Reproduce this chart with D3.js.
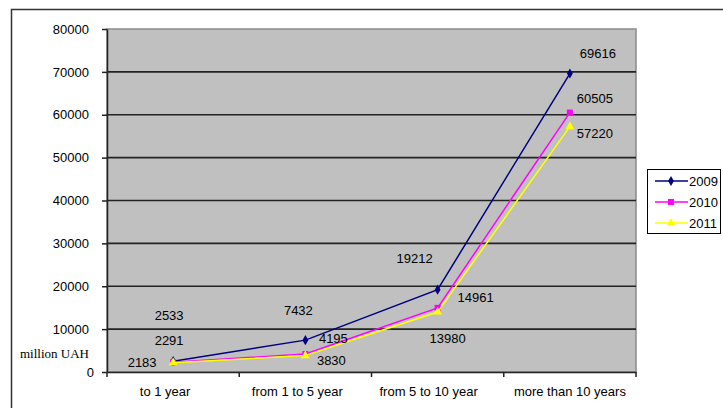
<!DOCTYPE html>
<html>
<head>
<meta charset="utf-8">
<script src="https://cdn.jsdelivr.net/npm/d3@7"></script>
<style>
  html, body { margin: 0; padding: 0; background: #fff; }
  svg { display: block; font-family: "Liberation Sans", Arial, sans-serif; }
</style>
</head>
<body>
<svg id="chart" width="723" height="408"></svg>
<script>
// Debt by maturity, million UAH
const categories = ["to 1 year", "from 1 to 5 year", "from 5 to 10 year", "more than 10 years"];
const years = ["2009", "2010", "2011"];
const values2009 = [2533, 7432, 19212, 69616];
const values2010 = [2291, 4195, 14961, 60505];
const values2011 = [2183, 3830, 13980, 57220];
const yTicks = [0, 10000, 20000, 30000, 40000, 50000, 60000, 70000, 80000];

// Per-series style and hand-placed data-label offsets (dx, dy from the point)
const seriesStyle = [
  { color: "#000080", symbol: d3.symbolDiamond, size: 30,
    nudge: [[-4, -46], [-7, -30], [-23, -31], [28, -20]] },
  { color: "#FF00FF", symbol: d3.symbolSquare, size: 36,
    nudge: [[-4, -22], [28, -16], [38, -10], [25, -14]] },
  { color: "#FFFF00", symbol: d3.symbolTriangle, size: 34,
    nudge: [[-31, 0], [26, 5], [10, 26], [25, 7]] }
];
const seriesValues = [values2009, values2010, values2011];
// Horizontal shift of each category label
const catLabelShift = [-8, -8, -9, 0];

const FS = 13;
const svg = d3.select("#chart");
const plot = { left: 107, right: 636, top: 29, bottom: 372 };

// Outer chart frame (open to the right and bottom)
svg.append("path")
  .attr("d", "M11.5,408 V9.5 H723")
  .attr("fill", "none").attr("stroke", "#333").attr("stroke-width", 1.5);

const x = d3.scaleBand().domain(categories).range([plot.left, plot.right]).padding(0);
const y = d3.scaleLinear().domain([0, 80000]).range([plot.bottom, plot.top]);

// Plot background
svg.append("rect")
  .attr("x", plot.left).attr("y", plot.top)
  .attr("width", plot.right - plot.left).attr("height", plot.bottom - plot.top)
  .attr("fill", "#C0C0C0").attr("stroke", "#8a8a8a").attr("stroke-width", 1.5);

// Horizontal gridlines
svg.append("g").selectAll("line")
  .data(yTicks.filter(t => t > 0 && t < 80000))
  .join("line")
  .attr("x1", plot.left).attr("x2", plot.right)
  .attr("y1", d => y(d)).attr("y2", d => y(d))
  .attr("stroke", "#222").attr("stroke-width", 1.6);

// Y axis
const yAxis = svg.append("g")
  .attr("transform", `translate(${plot.left},0)`)
  .call(d3.axisLeft(y).tickValues(yTicks).tickSize(5).tickSizeOuter(0).tickPadding(13).tickFormat(d3.format("d")));
yAxis.select(".domain").attr("stroke", "#222").attr("stroke-width", 1.5);
yAxis.selectAll(".tick line").attr("stroke", "#222").attr("stroke-width", 1.5);
yAxis.selectAll(".tick text")
  .style("font-family", "Liberation Sans, Arial, sans-serif").style("font-size", FS + "px")
  .attr("fill", "#000").attr("dx", d => d === 0 ? 5 : 0);

// X axis with ticks at category boundaries
const xAxis = svg.append("g")
  .attr("transform", `translate(0,${plot.bottom})`)
  .call(d3.axisBottom(x).tickSize(0).tickPadding(15));
xAxis.select(".domain").attr("stroke", "#222").attr("stroke-width", 1.5);
xAxis.selectAll(".tick text")
  .style("font-family", "Liberation Sans, Arial, sans-serif").style("font-size", FS + "px")
  .attr("fill", "#000")
  .attr("dx", (d, i) => catLabelShift[i]);
svg.append("g").selectAll("line")
  .data(categories.map(c => x(c)).concat([plot.right]))
  .join("line")
  .attr("x1", d => d).attr("x2", d => d)
  .attr("y1", plot.bottom).attr("y2", plot.bottom + 5)
  .attr("stroke", "#222").attr("stroke-width", 1.5);

// Unit label
svg.append("text")
  .attr("x", 20).attr("y", 358)
  .style("font-family", "Liberation Serif, 'Times New Roman', serif")
  .style("font-size", "13px")
  .text("million UAH");

const cx = c => x(c) + x.bandwidth() / 2;
const line = d3.line().x((d, i) => cx(categories[i])).y(d => y(d));

// Series lines and markers
seriesValues.forEach((vals, s) => {
  const st = seriesStyle[s];
  const g = svg.append("g");
  g.append("path").datum(vals)
    .attr("d", line)
    .attr("fill", "none").attr("stroke", st.color).attr("stroke-width", 1.5);
  g.selectAll("path.m").data(vals).join("path")
    .attr("class", "m")
    .attr("transform", (d, i) => `translate(${cx(categories[i])},${y(d)})`)
    .attr("d", d3.symbol(st.symbol, st.size))
    .attr("fill", st.color);
});

// Data labels
seriesValues.forEach((vals, s) => {
  const st = seriesStyle[s];
  svg.append("g").selectAll("text").data(vals).join("text")
    .attr("x", (d, i) => cx(categories[i]) + st.nudge[i][0])
    .attr("y", (d, i) => y(d) + st.nudge[i][1])
    .attr("dy", "0.35em")
    .attr("text-anchor", "middle")
    .style("font-size", FS + "px")
    .text(d => d);
});

// Legend
const lg = svg.append("g");
lg.append("rect")
  .attr("x", 647.5).attr("y", 169.5).attr("width", 73).attr("height", 64)
  .attr("fill", "#fff").attr("stroke", "#000").attr("stroke-width", 1);
years.forEach((yr, s) => {
  const st = seriesStyle[s];
  const ly = 181 + s * 21;
  lg.append("line").attr("x1", 655).attr("x2", 688).attr("y1", ly).attr("y2", ly)
    .attr("stroke", st.color).attr("stroke-width", 1.5);
  lg.append("path").attr("transform", `translate(671,${ly})`)
    .attr("d", d3.symbol(st.symbol, st.size)).attr("fill", st.color);
  lg.append("text").attr("x", 689).attr("y", ly).attr("dy", "0.35em")
    .style("font-size", FS + "px").text(yr);
});
</script>
</body>
</html>
